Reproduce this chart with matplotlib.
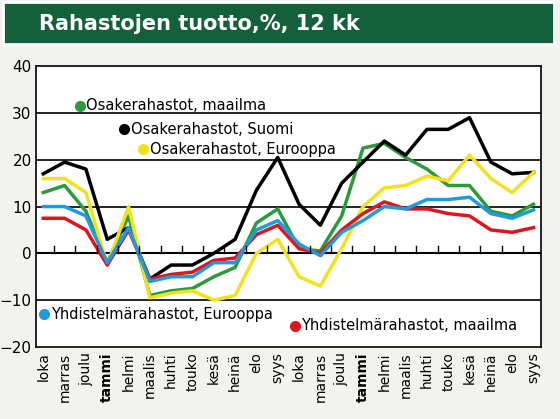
import matplotlib
matplotlib.use("Agg")
import matplotlib.pyplot as plt
from matplotlib.patches import Rectangle

months = ["loka","marras","joulu","tammi","helmi","maalis","huhti","touko","kesä","heinä","elo","syys",
          "loka","marras","joulu","tammi","helmi","maalis","huhti","touko","kesä","heinä","elo","syys"]
black = [17,19.5,18,3,5.5,-5.5,-2.5,-2.5,0,3,13.5,20.5,10.5,6,15,19.5,24,21,26.5,26.5,29,19.5,17,17.3]
green = [13,14.5,9,-2,8,-9,-8,-7.5,-5,-3,6.5,9.5,1,0.5,8,22.5,23.5,20.5,18,14.5,14.5,9,8,10.5]
yellow = [16,16,13,-2.5,10,-9.5,-8.5,-8,-10,-9,0,3,-5,-7,1,10,14,14.5,16.5,15.5,21,16,13,17.3]
blue = [10,10,8,-2,5.5,-6,-5,-5,-2,-2,5,7,2,-0.5,4.5,7,10,9.5,11.5,11.5,12,8.5,7.5,9.3]
red = [7.5,7.5,5,-2.5,5,-5.5,-4.5,-4,-1.5,-1,4,6,1,0,5,8.5,11,9.5,9.5,8.5,8,5,4.5,5.5]

fig = plt.figure(figsize=(5.6,4.19), dpi=100)
fig.patch.set_facecolor("#f2f2ee")
fig.patches.append(Rectangle((0.005,0.895),0.985,0.1,transform=fig.transFigure,
                             facecolor="#14603a",edgecolor="white",lw=2))
fig.text(0.07,0.942,"Rahastojen tuotto,%, 12 kk",color="white",fontsize=15,fontweight="bold",va="center")

ax = fig.add_axes([0.064,0.172,0.902,0.67])
ax.set_facecolor("white")
x = list(range(len(months)))
cols = {"green":"#2a9a3a","black":"#000000","yellow":"#f5e11a","blue":"#1e9be0","red":"#e0141e"}
ax.plot(x,green,color=cols["green"],lw=2.5)
ax.plot(x,black,color=cols["black"],lw=2.5)
ax.plot(x,yellow,color=cols["yellow"],lw=2.5)
ax.plot(x,red,color=cols["red"],lw=2.5)
ax.plot(x,blue,color=cols["blue"],lw=2.5)
ax.set_xlim(-0.35,len(months)-0.65)
ax.set_ylim(-20,40)
ax.set_yticks(range(-20,41,10))
ax.tick_params(axis="y",length=0,labelsize=11,pad=3)
for y in range(-10,40,10):
    ax.axhline(y,color="black",lw=1.2 if y else 1.5,zorder=0)
ax.set_xticks(x)
ax.set_xticklabels(months,rotation=90,fontsize=10)
for i,l in enumerate(ax.get_xticklabels()):
    if months[i]=="tammi": l.set_fontweight("bold")
ax.tick_params(axis="x",length=0,pad=4)
for xi in x[1:]:
    ax.plot([xi-0.5,xi-0.5],[0,1.5],color="black",lw=1)
for s in ax.spines.values(): s.set_linewidth(1.2)
def lab(xp,yp,txt,c):
    ax.plot([xp],[yp],"o",color=c,ms=7)
    ax.text(xp+0.3,yp,txt,fontsize=10.5,va="center")
lab(1.7,31.5,"Osakerahastot, maailma",cols["green"])
lab(3.8,26.5,"Osakerahastot, Suomi",cols["black"])
lab(4.7,22.3,"Osakerahastot, Eurooppa",cols["yellow"])
lab(0.05,-13,"Yhdistelmärahastot, Eurooppa",cols["blue"])
lab(11.8,-15.5,"Yhdistelmärahastot, maailma",cols["red"])
fig.savefig("out.png",facecolor=fig.get_facecolor())
